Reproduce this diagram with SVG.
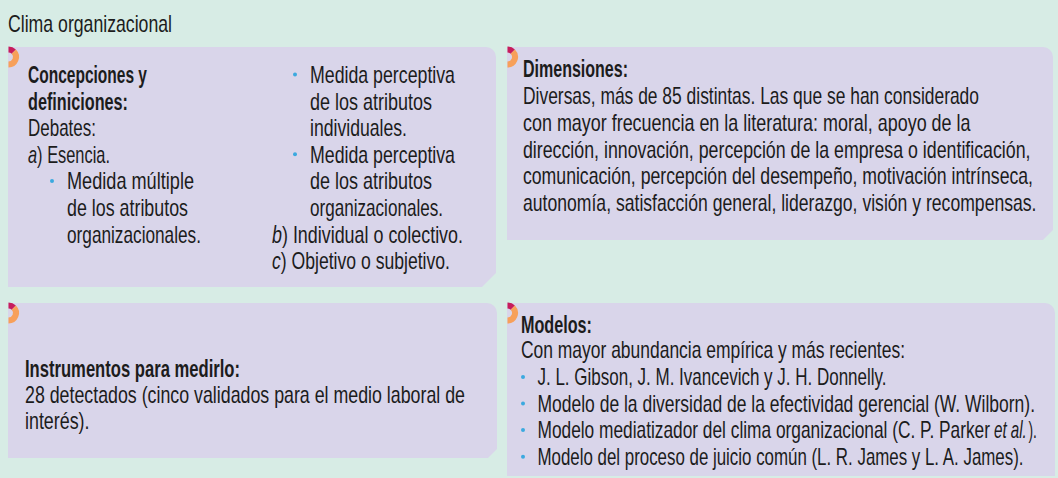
<svg xmlns="http://www.w3.org/2000/svg" xmlns:xlink="http://www.w3.org/1999/xlink" width="1058" height="478" viewBox="0 0 1058 478">
<style>
.box{fill:#d9d5ea}
text{font-family:"Liberation Sans",Arial,sans-serif;font-size:23px;fill:#1c1c1c}
.h{font-weight:bold}
.i{font-style:italic}
.bul{fill:#3ba9df}
</style>
<defs>
<g id="icon">
<path d="M0.5,-0.5 A10.5,10.5 0 0 1 7.92,2.58 L3.68,6.82 A4.5,4.5 0 0 0 0.5,5.5 Z" fill="#c61c5c"/>
<path d="M7.92,2.58 A10.5,10.5 0 0 1 0.5,20.5 L0.5,14.5 A4.5,4.5 0 0 0 3.68,6.82 Z" fill="#f7a05a"/>
</g>
</defs>
<rect width="1058" height="478" fill="#d7ece5"/>
<g id="title" transform="scale(0.78,1)">
<text x="10.26" y="32" textLength="210.26" lengthAdjust="spacingAndGlyphs">Clima organizacional</text>
</g>

<g id="concepciones">
<path class="box" d="M8,47 H486 A10,10 0 0 1 496,57 V273 L482,287 H8 Z"/>
<use xlink:href="#icon" x="8" y="47"/>
<circle class="bul" cx="52" cy="181" r="2"/>
<circle class="bul" cx="295" cy="74.5" r="2"/>
<circle class="bul" cx="295" cy="154.3" r="2"/>
<g transform="scale(0.78,1)">
<text class="h" x="35.9" y="83" textLength="152.56" lengthAdjust="spacingAndGlyphs">Concepciones y</text>
<text class="h" x="35.9" y="109.6" textLength="128.21" lengthAdjust="spacingAndGlyphs">definiciones:</text>
<text x="35.9" y="136.2" textLength="87.18" lengthAdjust="spacingAndGlyphs">Debates:</text>
<text x="35.9" y="162.8" textLength="105.13" lengthAdjust="spacingAndGlyphs"><tspan class="i">a</tspan>) Esencia.</text>
<text x="85.9" y="189.4" textLength="162.82" lengthAdjust="spacingAndGlyphs">Medida múltiple</text>
<text x="85.9" y="216" textLength="155.13" lengthAdjust="spacingAndGlyphs">de los atributos</text>
<text x="85.9" y="242.6" textLength="171.79" lengthAdjust="spacingAndGlyphs">organizacionales.</text>
<text x="397.44" y="83" textLength="185.9" lengthAdjust="spacingAndGlyphs">Medida perceptiva</text>
<text x="397.44" y="109.6" textLength="156.41" lengthAdjust="spacingAndGlyphs">de los atributos</text>
<text x="397.44" y="136.2" textLength="124.36" lengthAdjust="spacingAndGlyphs">individuales.</text>
<text x="397.44" y="162.8" textLength="185.9" lengthAdjust="spacingAndGlyphs">Medida perceptiva</text>
<text x="397.44" y="189.4" textLength="156.41" lengthAdjust="spacingAndGlyphs">de los atributos</text>
<text x="397.44" y="216" textLength="170.51" lengthAdjust="spacingAndGlyphs">organizacionales.</text>
<text x="348.72" y="242.6" textLength="244.87" lengthAdjust="spacingAndGlyphs"><tspan class="i">b</tspan>) Individual o colectivo.</text>
<text x="348.72" y="269.2" textLength="228.21" lengthAdjust="spacingAndGlyphs"><tspan class="i">c</tspan>) Objetivo o subjetivo.</text>
</g>
</g>

<g id="dimensiones">
<path class="box" d="M507,47 H1043 A10,10 0 0 1 1053,57 V230 L1043,240 H507 Z"/>
<use xlink:href="#icon" x="507" y="47"/>
<g transform="scale(0.78,1)">
<text class="h" x="670.51" y="77.3" textLength="134.62" lengthAdjust="spacingAndGlyphs">Dimensiones:</text>
<text x="670.51" y="104.3" textLength="584.62" lengthAdjust="spacingAndGlyphs">Diversas, más de 85 distintas. Las que se han considerado</text>
<text x="670.51" y="131" textLength="573.72" lengthAdjust="spacingAndGlyphs">con mayor frecuencia en la literatura: moral, apoyo de la</text>
<text x="670.51" y="157.7" textLength="650.64" lengthAdjust="spacingAndGlyphs">dirección, innovación, percepción de la empresa o identificación,</text>
<text x="670.51" y="184.3" textLength="653.85" lengthAdjust="spacingAndGlyphs">comunicación, percepción del desempeño, motivación intrínseca,</text>
<text x="670.51" y="211" textLength="658.33" lengthAdjust="spacingAndGlyphs">autonomía, satisfacción general, liderazgo, visión y recompensas.</text>
</g>
</g>

<g id="instrumentos">
<path class="box" d="M8,303 H487 A10,10 0 0 1 497,313 V449 L488,458 H8 Z"/>
<use xlink:href="#icon" x="8" y="303"/>
<g transform="scale(0.78,1)">
<text class="h" x="32.05" y="377" textLength="275.64" lengthAdjust="spacingAndGlyphs">Instrumentos para medirlo:</text>
<text x="32.05" y="403" textLength="564.1" lengthAdjust="spacingAndGlyphs">28 detectados (cinco validados para el medio laboral de</text>
<text x="32.05" y="429.5" textLength="82.69" lengthAdjust="spacingAndGlyphs">interés).</text>
</g>
</g>

<g id="modelos">
<path class="box" d="M507,303 H1045 A10,10 0 0 1 1055,313 V476 H507 Z"/>
<use xlink:href="#icon" x="507" y="303"/>
<circle class="bul" cx="523" cy="377" r="2"/>
<circle class="bul" cx="523" cy="403.5" r="2"/>
<circle class="bul" cx="523" cy="430" r="2"/>
<circle class="bul" cx="523" cy="456.7" r="2"/>
<g transform="scale(0.78,1)">
<text class="h" x="667.95" y="332.7" textLength="91.03" lengthAdjust="spacingAndGlyphs">Modelos:</text>
<text x="667.95" y="358.5" textLength="492.31" lengthAdjust="spacingAndGlyphs">Con mayor abundancia empírica y más recientes:</text>
<text x="689.1" y="385" textLength="447.44" lengthAdjust="spacingAndGlyphs">J. L. Gibson, J. M. Ivancevich y J. H. Donnelly.</text>
<text x="689.1" y="411.7" textLength="637.82" lengthAdjust="spacingAndGlyphs">Modelo de la diversidad de la efectividad gerencial (W. Wilborn).</text>
<text x="689.1" y="465" textLength="623.08" lengthAdjust="spacingAndGlyphs">Modelo del proceso de juicio común (L. R. James y L. A. James).</text>
</g>
<g transform="scale(0.7484,1)">
<text x="718.2" y="438.3" textLength="604.6" lengthAdjust="spacingAndGlyphs">Modelo mediatizador del clima organizacional (C. P. Parker</text>
</g>
<g transform="scale(0.66,1)">
<text class="i" x="1506" y="438.3" textLength="49.8" lengthAdjust="spacingAndGlyphs">et al.</text>
</g>
<g transform="scale(0.6,1)">
<text x="1714" y="438.3" textLength="14" lengthAdjust="spacingAndGlyphs">).</text>
</g>
</g>
</svg>
